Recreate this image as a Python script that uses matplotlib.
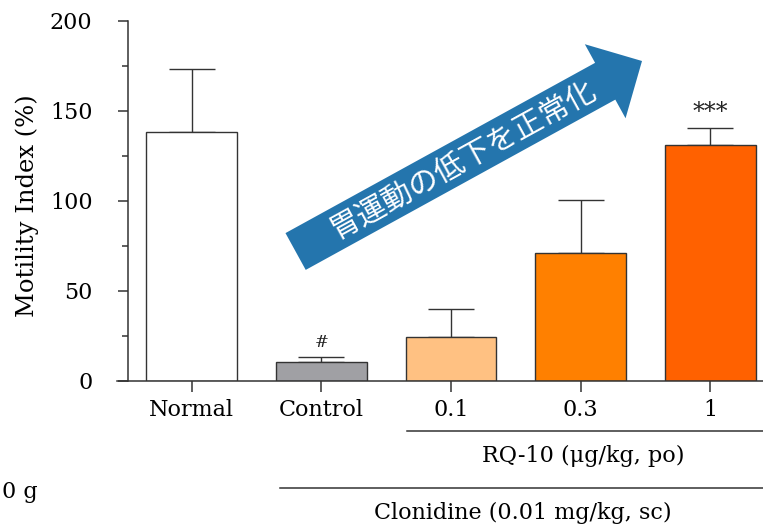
import matplotlib
matplotlib.use("Agg")
import matplotlib.pyplot as plt
from matplotlib.patches import FancyArrow
from matplotlib.lines import Line2D
from matplotlib.transforms import Affine2D

plt.rcParams['font.family'] = ['DejaVu Serif']

# data
groups = ['Normal', 'Control', '0.1', '0.3', '1']
means = [138.3, 10.6, 24.1, 71.1, 131.0]
sems = [35.0, 2.7, 15.7, 29.3, 9.4]
colors = ['#FFFFFF', '#A0A0A4', '#FFC182', '#FF8000', '#FF6100']
marks = ['', '#', '', '', '***']

W, H = 763, 526
fig = plt.figure(figsize=(W / 100, H / 100), dpi=100)
# pixel coords, origin top-left
px = Affine2D().scale(1 / W, -1 / H).translate(0, 1) + fig.transFigure

step = 129.7
x0 = 191.5
ax_l, ax_r = 117, 763
ax_top, ax_bot = 20.7, 380.7
ax = fig.add_axes([ax_l / W, (H - ax_bot) / H, (ax_r - ax_l) / W, (ax_bot - ax_top) / H])

xs = list(range(len(groups)))
ax.bar(xs, means, width=0.7, color=colors, edgecolor='#333333', linewidth=1.0, zorder=2)
ax.errorbar(xs, means, yerr=[[0] * len(xs), sems], fmt='none', ecolor='#333333',
            elinewidth=1.0, capsize=16.5, capthick=1.0, zorder=1)

for x, m, s, t in zip(xs, means, sems, marks):
    if t == '#':
        ax.text(x, m + s + 3, t, ha='center', va='bottom', fontsize=12, color='#222222')
    elif t:
        ax.text(x, m + s + 2, t, ha='center', va='bottom', fontsize=17, color='#222222')

ax.set_xlim((ax_l - x0) / step, (ax_r - x0) / step)
ax.set_ylim(0, 200)
ax.spines['top'].set_visible(False)
ax.spines['right'].set_visible(False)
ax.spines['left'].set_position(('data', (127.5 - x0) / step))
for sp in ['left', 'bottom']:
    ax.spines[sp].set_linewidth(1.1)
    ax.spines[sp].set_color('#333333')

ax.set_yticks([0, 50, 100, 150, 200])
ax.set_yticks([25, 75, 125, 175], minor=True)
ax.set_xticks(xs)
ax.set_xticklabels(groups)
ax.tick_params(axis='y', which='major', length=7.2, width=1.1, pad=18, labelsize=16, color='#333333')
ax.tick_params(axis='y', which='minor', length=4.3, width=1.1, color='#333333')
ax.tick_params(axis='x', length=8, width=1.1, pad=5, labelsize=16, color='#333333')

fig.text(27, 206, 'Motility Index (%)', transform=px, rotation=90, ha='center', va='center',
         fontsize=17.5)

# treatment lines and labels
fig.add_artist(Line2D([407, 770], [431, 431], transform=px, color='#333333', lw=1.1))
fig.text(583, 456, 'RQ-10 (μg/kg, po)', transform=px, ha='center', va='center', fontsize=16)
fig.add_artist(Line2D([280, 770], [488, 488], transform=px, color='#333333', lw=1.1))
fig.text(523, 513, 'Clonidine (0.01 mg/kg, sc)', transform=px, ha='center', va='center', fontsize=16)
fig.text(2, 492, '0 g', transform=px, ha='left', va='center', fontsize=16)

# arrow
tail = (295.6, 251.5)
tip = (642, 61)
arrow = FancyArrow(tail[0], tail[1], tip[0] - tail[0], tip[1] - tail[1], width=42,
                   head_width=84.5, head_length=42, length_includes_head=True,
                   transform=px, color='#2475AD', lw=0)
fig.add_artist(arrow)
fig.text(463, 160, '胃運動の低下を正常化', transform=px, rotation=28.8, rotation_mode='anchor',
         ha='center', va='center', fontsize=21.5, color='white', family=['Noto Sans CJK JP'])

fig.savefig('out.png', dpi=100)
